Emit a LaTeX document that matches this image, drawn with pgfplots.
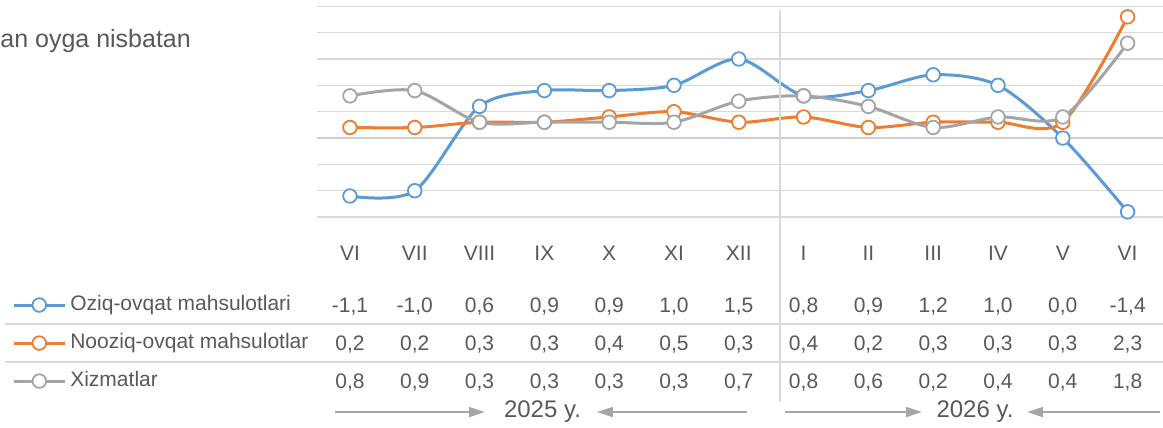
\documentclass[border=0pt]{standalone}
\usepackage{pgfplots}
\pgfplotsset{compat=1.18}
\usepackage{pgfplotstable}
\usepackage{fontspec}
\setmainfont{Liberation Sans}
\usetikzlibrary{arrows.meta}
\definecolor{foodblue}{HTML}{5B9BD5}
\definecolor{nonorange}{HTML}{ED7D31}
\definecolor{servgray}{HTML}{A5A5A5}
\definecolor{txtgray}{HTML}{595959}
\definecolor{gridcol}{HTML}{D9D9D9}
\definecolor{arrowgray}{HTML}{A6A6A6}

% monthly change, %, to previous month
\pgfplotstableread{
x  food  nonfood  serv
0  -1.1  0.2  0.8
1  -1.0  0.2  0.9
2   0.6  0.3  0.3
3   0.9  0.3  0.3
4   0.9  0.4  0.3
5   1.0  0.5  0.3
6   1.5  0.3  0.7
7   0.8  0.4  0.8
8   0.9  0.2  0.6
9   1.2  0.3  0.2
10  1.0  0.3  0.4
11  0.0  0.3  0.4
12 -1.4  2.3  1.8
}\cpidata

\pgfplotsset{
  serie/.style={smooth, line width=1.5pt, color=#1, mark=*, mark size=3.4pt,
    mark options={solid, fill=white, draw=#1, line width=0.9pt}},
  rowvals/.style={forget plot, draw=none, mark=none, point meta=explicit,
    nodes near coords={\pgfmathprintnumber[fixed,fixed zerofill,precision=1,use comma,assume math mode=true]{\pgfplotspointmeta}},
    every node near coord/.append style={anchor=center, inner sep=0pt, text height=7.5pt, text depth=0pt, text=txtgray}},
}

\begin{document}
\begin{tikzpicture}[font=\fontsize{10.5}{12}\selectfont, text=txtgray]
\begin{axis}[
  x=32.4pt, y=26.35pt,
  xmin=-0.509, xmax=12.546, ymin=-1.5, ymax=2.5,
  scale only axis, clip=false,
  axis line style={draw=none},
  major tick length=0pt,
  ytick={-1.5,-1,...,2.5}, yticklabels={},
  ymajorgrids, grid style={gridcol, line width=0.7pt},
  extra y ticks={0}, extra y tick labels={},
  extra y tick style={grid style={gridcol!80!black!60, line width=0.9pt}},
  xtick={0,...,12},
  xticklabels={VI,VII,VIII,IX,X,XI,XII,I,II,III,IV,V,VI},
  xticklabel style={anchor=center, yshift=-18pt, text height=7.5pt, text depth=0pt, text=txtgray},
  legend cell align=left,
  legend image code/.code={
    \draw[mark repeat=2,mark phase=2,#1] plot coordinates {(0pt,0pt) (12.75pt,0pt) (25.5pt,0pt)};
  },
  legend style={at={(axis cs:-5.216,-3.890)}, anchor=west, draw=none, fill=none,
    inner sep=0pt, row sep=9.5pt, column sep=2pt, text=txtgray,
    font=\fontsize{10.5}{12}\selectfont,
    nodes={inner sep=0pt, text height=7.5pt, text depth=2pt}},
]
\addplot[serie=foodblue] table[x=x, y=food] {\cpidata};
\addlegendentry{Oziq-ovqat mahsulotlari}
\addplot[serie=nonorange] table[x=x, y=nonfood] {\cpidata};
\addlegendentry{Nooziq-ovqat mahsulotlar}
\addplot[serie=servgray] table[x=x, y=serv] {\cpidata};
\addlegendentry{Xizmatlar}

% data table under the chart
\addplot[rowvals] table[x=x, y expr=-3.169, meta=food] {\cpidata};
\addplot[rowvals] table[x=x, y expr=-3.890, meta=nonfood] {\cpidata};
\addplot[rowvals] table[x=x, y expr=-4.611, meta=serv] {\cpidata};

\draw[gridcol, line width=0.9pt] (axis cs:-5.324,-3.529) -- (axis cs:12.546,-3.529);
\draw[gridcol, line width=0.9pt] (axis cs:-5.324,-4.250) -- (axis cs:12.546,-4.250);
\draw[gridcol, line width=0.9pt] (axis cs:6.63,2.43) -- (axis cs:6.63,-5.01);

% year markers
\draw[arrowgray, line width=0.9pt, -{Triangle[length=8pt,width=5pt]}] (axis cs:-0.231,-5.199) -- (axis cs:2.083,-5.199);
\draw[arrowgray, line width=0.9pt, -{Triangle[length=8pt,width=5pt]}] (axis cs:6.127,-5.199) -- (axis cs:3.812,-5.199);
\draw[arrowgray, line width=0.9pt, -{Triangle[length=8pt,width=5pt]}] (axis cs:6.713,-5.199) -- (axis cs:8.827,-5.199);
\draw[arrowgray, line width=0.9pt, -{Triangle[length=8pt,width=5pt]}] (axis cs:12.5,-5.199) -- (axis cs:10.448,-5.199);
\node[anchor=base, inner sep=0pt, font=\fontsize{12}{14}\selectfont] at (axis cs:2.971,-5.294) {2025 y.};
\node[anchor=base, inner sep=0pt, font=\fontsize{12}{14}\selectfont] at (axis cs:9.645,-5.294) {2026 y.};

\node[anchor=base west, inner sep=0pt, font=\fontsize{12.5}{15}\selectfont] at (axis cs:-5.40,1.727) {an oyga nisbatan};

\coordinate (bl) at (axis cs:-5.40,-5.484);
\coordinate (tr) at (axis cs:12.546,2.619);
\end{axis}
\pgfresetboundingbox
\useasboundingbox (bl) rectangle (tr);
\end{tikzpicture}
\end{document}
